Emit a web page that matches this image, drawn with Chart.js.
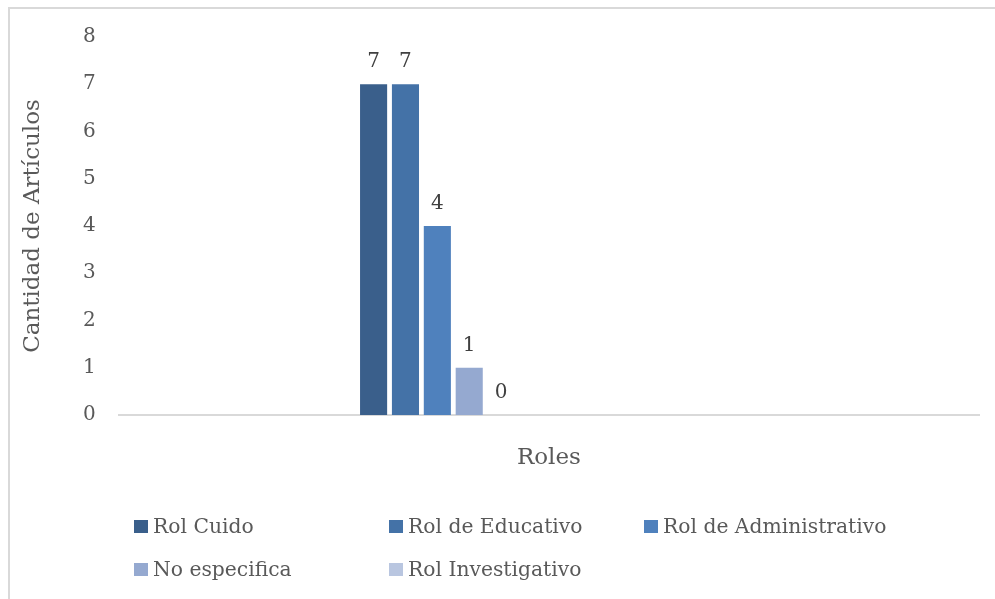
<!DOCTYPE html>
<html>
<head>
<meta charset="utf-8">
<script src="https://cdn.jsdelivr.net/npm/chart.js@4/dist/chart.umd.min.js"></script>
<style>
  body { margin: 0; background: #fff; }
  #frame { position: absolute; left: 8px; top: 7px; width: 1000px; height: 600px;
           border: 2px solid #d9d9d9; box-sizing: border-box; }
  #wrap { position: absolute; left: 0; top: 0; width: 995px; height: 599px; }
  .item { position: absolute; font: 20.3px "DejaVu Serif", serif; color: #595959;
          line-height: 26px; white-space: nowrap; }
  .item .box { position: absolute; left: 0; top: 7px; width: 14px; height: 13px; }
  .item .txt { position: absolute; left: 19px; top: 0; }
</style>
</head>
<body>
<div id="frame"></div>
<div id="wrap"><canvas id="chart"></canvas></div>
<div id="legend"></div>
<script>
// single category, five series
const categories = [""];
const seriesNames = ["Rol Cuido", "Rol de Educativo", "Rol de Administrativo", "No especifica", "Rol Investigativo"];
const seriesValues = [7, 7, 4, 1, 0];
const seriesColors = ["#3a5f8b", "#4472a7", "#4f81bd", "#95a9d0", "#b9c6e0"];
const yTicks = [0, 1, 2, 3, 4, 5, 6, 7, 8];
// empty slots that keep the group left of centre, like the original
const spacerSlots = 7;

const FONT = '"DejaVu Serif", serif';
const TICK_SIZE = 20;
const TITLE_SIZE = 23;
const TEXT = "#595959";

const datasets = seriesNames.map((name, i) => ({
    label: name,
    data: [seriesValues[i]],
    backgroundColor: seriesColors[i]
}));
for (let i = 0; i < spacerSlots; i++) {
    datasets.push({ label: "", data: [null], spacer: true, backgroundColor: "transparent" });
}

// numbers over the bars
const valueLabels = {
    id: "valueLabels",
    afterDatasetsDraw(chart) {
        const ctx = chart.ctx;
        ctx.save();
        ctx.font = TICK_SIZE + "px " + FONT;
        ctx.fillStyle = "#404040";
        ctx.textAlign = "center";
        ctx.textBaseline = "middle";
        chart.data.datasets.forEach((ds, i) => {
            if (ds.spacer) return;
            chart.getDatasetMeta(i).data.forEach((bar, j) => {
                ctx.fillText(String(ds.data[j]), bar.x, bar.y - 22);
            });
        });
        ctx.restore();
    }
};

new Chart(document.getElementById("chart"), {
    type: "bar",
    data: { labels: categories, datasets },
    plugins: [valueLabels],
    options: {
        responsive: true,
        maintainAspectRatio: false,
        animation: false,
        categoryPercentage: 0.4447,
        barPercentage: 0.85,
        layout: { padding: { left: 19, right: 16, top: 37, bottom: 127 } },
        plugins: { legend: { display: false }, tooltip: { enabled: false } },
        scales: {
            x: {
                grid: { display: false, drawTicks: false },
                border: { display: true, color: "#d9d9d9", width: 2 },
                ticks: { display: false },
                title: { display: true, text: "Roles", color: TEXT,
                         font: { family: FONT, size: TITLE_SIZE }, padding: { top: 29.4, bottom: 0 } }
            },
            y: {
                min: yTicks[0],
                max: yTicks[yTicks.length - 1],
                afterBuildTicks: axis => { axis.ticks = yTicks.map(v => ({ value: v })); },
                grid: { display: false, drawTicks: false },
                border: { display: false },
                ticks: { color: TEXT, font: { family: FONT, size: TICK_SIZE }, padding: 23 },
                title: { display: true, text: "Cantidad de Artículos", color: TEXT,
                         font: { family: FONT, size: TITLE_SIZE }, padding: { top: 0, bottom: 13.5 } }
            }
        }
    }
});

// legend in three columns, as in the original
const legendCols = [134, 389, 644];
const legendRows = [513, 556];
const legend = document.getElementById("legend");
seriesNames.forEach((name, i) => {
    const item = document.createElement("div");
    item.className = "item";
    item.style.left = legendCols[i % 3] + "px";
    item.style.top = legendRows[Math.floor(i / 3)] + "px";
    item.innerHTML = '<span class="box" style="background:' + seriesColors[i] + '"></span><span class="txt"></span>';
    item.querySelector(".txt").textContent = name;
    legend.appendChild(item);
});
</script>
</body>
</html>
